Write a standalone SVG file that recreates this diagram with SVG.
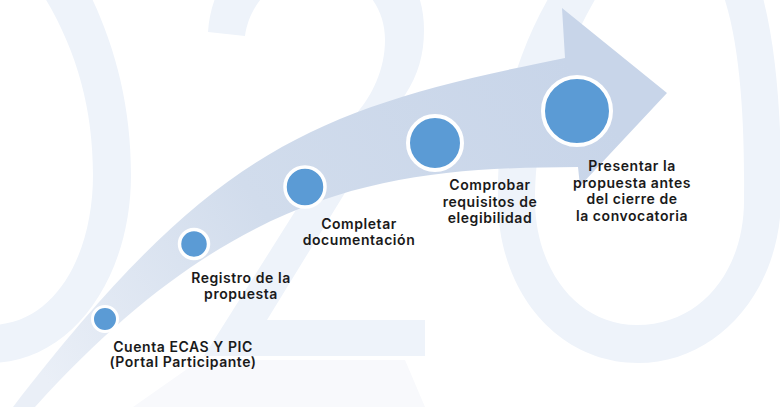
<svg xmlns="http://www.w3.org/2000/svg" width="780" height="407" viewBox="0 0 780 407">
<defs>
<linearGradient id="arrowGrad" gradientUnits="userSpaceOnUse" x1="560" y1="50" x2="60" y2="400">
<stop offset="0" stop-color="#c8d5e9"/>
<stop offset="0.55" stop-color="#d1dcec"/>
<stop offset="1" stop-color="#eaeff7"/>
</linearGradient>
<style>
.digit{fill:#eef3fa;fill-rule:evenodd}
.dot{fill:#5b9bd5;stroke:#ffffff}
.lbl{font-family:Inter,"Noto Sans","DejaVu Sans",sans-serif;font-weight:600;font-size:14px;letter-spacing:0.55px;fill:#1a1a1a;text-anchor:middle}
</style>
</defs>
<rect width="780" height="407" fill="#ffffff"/>
<g id="background-2020">
<path class="digit" d="M -10,363 C 70,363 131,280 131,175 C 131,95 110,30 80,-25 L -50,-25 L -50,363 Z M -10,325 C 55,325 93,255 93,175 C 93,105 75,45 40,-10 L 30,-20 L -40,-20 L -40,325 Z"/>
<path class="digit" d="M 208,32 C 212,-30 260,-70 315,-70 C 380,-70 424,-30 424,30 C 424,55 418,75 405,95 L 267,320 L 425,320 L 425,356 L 204,356 L 357,113 C 372,95 385,70 385,40 C 385,0 355,-28 315,-28 C 280,-28 250,0 245,36 Z"/>
<path class="digit" d="M 638,363 C 718,363 782,290 781,195 C 782,80 770,-100 680,-100 C 605,-100 550,-20 522,55 C 503,105 497,150 498,205 C 500,295 560,363 638,363 Z M 637,325 C 703,325 745,268 744,198 C 745,110 740,-60 670,-60 C 620,-60 590,5 566,58 C 545,100 535,150 535,202 C 536,270 577,325 637,325 Z"/>
<path d="M 200,360 L 405,360 L 425,407 L 133,407 Z" fill="#f8f9fc"/>
</g>
<g id="connectors">
<path id="flow-arrow" d="M 13,407 C 213,147 315,108 565,58 L 562,8 L 667,93 L 580,186 L 578,167 C 400,168 240,180 35,407 Z" fill="url(#arrowGrad)"/>
</g>
<g id="step1">
<circle class="dot" cx="105" cy="319" r="12.5" stroke-width="3"/>
<text class="lbl" x="183" y="351.5">Cuenta ECAS Y PIC</text>
<text class="lbl" x="183" y="367">(Portal Participante)</text>
</g>
<g id="step2">
<circle class="dot" cx="194" cy="244" r="14.5" stroke-width="3.5"/>
<text class="lbl" x="241" y="283">Registro de la</text>
<text class="lbl" x="241" y="298.5">propuesta</text>
</g>
<g id="step3">
<circle class="dot" cx="305" cy="187" r="20" stroke-width="3.5"/>
<text class="lbl" x="359" y="228.5">Completar</text>
<text class="lbl" x="359" y="244.5">documentación</text>
</g>
<g id="step4">
<circle class="dot" cx="435" cy="143" r="27" stroke-width="4"/>
<text class="lbl" x="490" y="190">Comprobar</text>
<text class="lbl" x="490" y="206.5">requisitos de</text>
<text class="lbl" x="490" y="223">elegibilidad</text>
</g>
<g id="step5">
<circle class="dot" cx="577" cy="111" r="34" stroke-width="4"/>
<text class="lbl" x="632" y="171">Presentar la</text>
<text class="lbl" x="632" y="187.5">propuesta antes</text>
<text class="lbl" x="632" y="204">del cierre de</text>
<text class="lbl" x="632" y="220.5">la convocatoria</text>
</g>
</svg>
